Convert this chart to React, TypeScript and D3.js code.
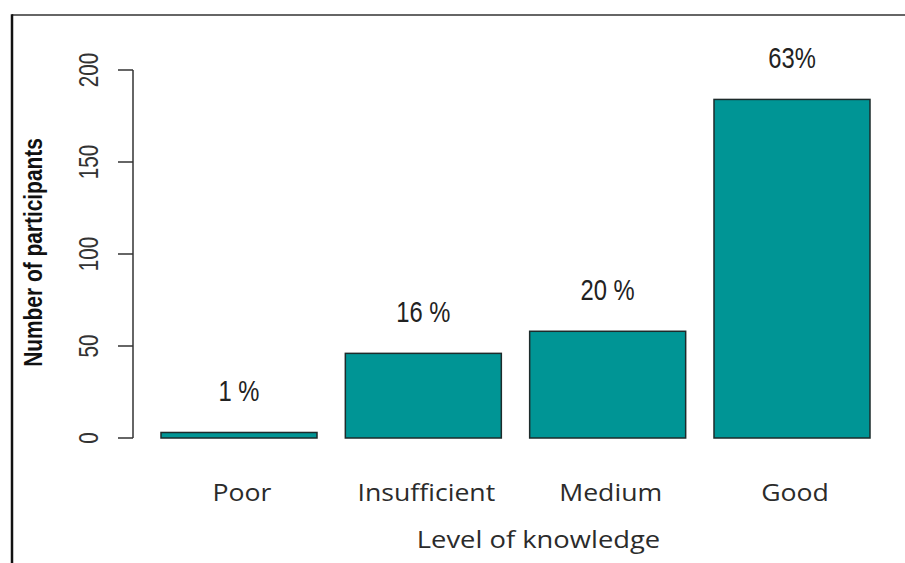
import React from "react";
import * as d3 from "d3";

const categories = ["Poor", "Insufficient", "Medium", "Good"];
const counts = [3, 46, 58, 184];
const pctLabels = ["1 %", "16 %", "20 %", "63%"];
const yTicks = [0, 50, 100, 150, 200];
const xTitle = "Level of knowledge";
const yTitle = "Number of participants";

const W = 905;
const H = 563;

export default function App() {
  const y = d3.scaleLinear().domain([0, 200]).range([438, 70]);
  const x = d3.scaleBand<string>().domain(categories).range([161, 870]).paddingInner(0.1537).paddingOuter(0);
  const arial = "'Liberation Sans', Arial, sans-serif";
  const humanist = "'Open Sans', Lato, sans-serif";
  return (
    <svg width={W} height={H} style={{ position: "absolute", left: 0, top: 0, background: "#fff" }}>
      <rect x={0} y={0} width={W} height={H} fill="#fff" />
      {/* frame */}
      <line x1={12} y1={15} x2={W} y2={15} stroke="#333" strokeWidth={1.5} />
      <line x1={12} y1={14.25} x2={12} y2={H} stroke="#111" strokeWidth={2.5} />
      {/* y axis */}
      <line x1={133} x2={133} y1={y(0)} y2={y(200)} stroke="#333" strokeWidth={1.5} />
      {yTicks.map((t) => (
        <g key={t}>
          <line x1={118} x2={133} y1={y(t)} y2={y(t)} stroke="#333" strokeWidth={1.5} />
          <text
            transform={`translate(97.5,${y(t)}) rotate(-90) scale(0.74,1)`}
            textAnchor="middle"
            fontFamily={arial}
            fontSize={28}
            fill="#333"
          >
            {t}
          </text>
        </g>
      ))}
      <text
        transform={`translate(42,${252.5}) rotate(-90) scale(0.82,1)`}
        textAnchor="middle"
        fontFamily={arial}
        fontWeight="bold"
        fontSize={25.5}
        fill="#111"
      >
        {yTitle}
      </text>
      {/* bars */}
      {categories.map((c, i) => {
        const cx = (x(c) as number) + x.bandwidth() / 2;
        return (
          <g key={c}>
            <rect
              x={x(c)}
              y={y(counts[i])}
              width={x.bandwidth()}
              height={y(0) - y(counts[i])}
              fill="#009595"
              stroke="#1d2b2b"
              strokeWidth={1.5}
            />
            <text
              transform={`translate(${cx},${y(counts[i]) - 31}) scale(0.82,1)`}
              textAnchor="middle"
              fontFamily={arial}
              fontSize={29}
              fill="#222"
            >
              {pctLabels[i]}
            </text>
            <text
              transform={`translate(${cx + 3},501) scale(1.11,1)`}
              textAnchor="middle"
              fontFamily={humanist}
              fontSize={24}
              fill="#2b2b2b"
            >
              {c}
            </text>
          </g>
        );
      })}
      <text
        transform={`translate(538.5,548) scale(1.14,1)`}
        textAnchor="middle"
        fontFamily={humanist}
        fontSize={24}
        fill="#2b2b2b"
      >
        {xTitle}
      </text>
    </svg>
  );
}
